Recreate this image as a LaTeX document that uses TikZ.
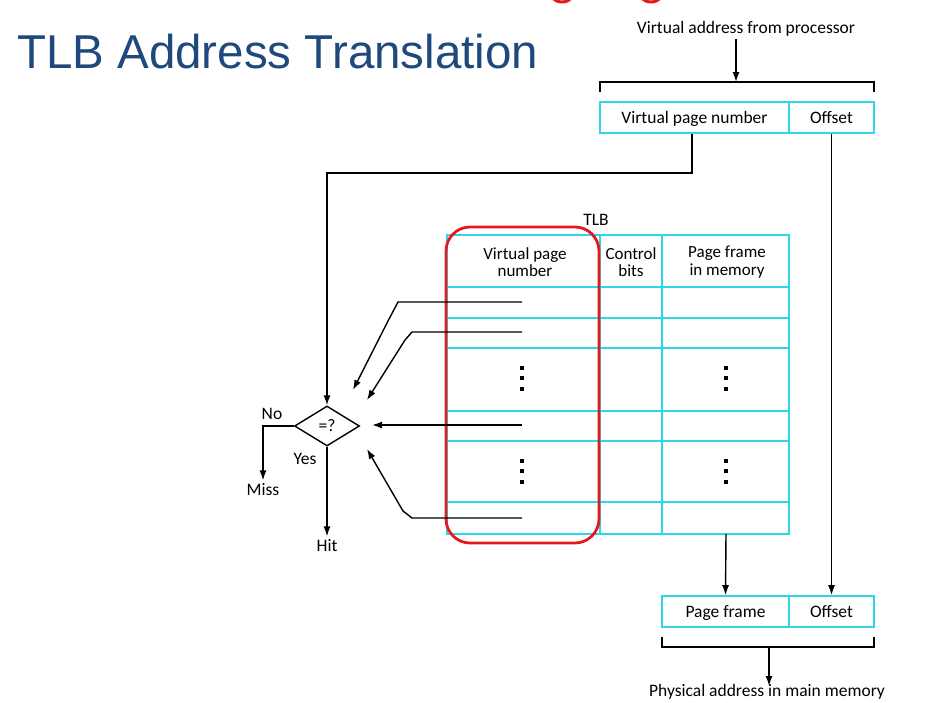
\documentclass[tikz,border=0pt]{standalone}
\usepackage{fontspec}
\setmainfont{Carlito}
\newfontfamily\titlefont{Liberation Sans}
\usetikzlibrary{shapes.geometric,arrows,arrows.meta}
\definecolor{tlbcyan}{RGB}{45,215,232}
\definecolor{titleblue}{RGB}{31,73,125}
\definecolor{markred}{RGB}{228,26,28}

\begin{document}
\begin{tikzpicture}[x=1pt,y=-1pt,>={Latex[length=10pt,width=7pt]},
  font=\fontsize{17.5}{15.5}\selectfont,
  box/.style={draw=tlbcyan,line width=1.6pt,minimum height=31pt,inner sep=0pt,text height=13pt,text depth=2pt},
  head/.style={align=center,inner sep=1pt,font=\fontsize{17}{17.5}\selectfont},
  grid/.style={tlbcyan,line width=1.6pt},
  wire/.style={line width=1.4pt},
  arr/.style={->,line width=1.4pt}]
\useasboundingbox (0,0) rectangle (931,702);

\node[anchor=base west,inner sep=0pt,text=titleblue,font=\titlefont\fontsize{47.5}{50}\selectfont] (title) at (17,68) {TLB Address Translation};

% bits of red marks cut off at the top
\draw[markred,line width=3pt] (562,-12) circle (14);
\draw[markred,line width=3pt] (651,-12) circle (14);

% virtual address
\node[anchor=base] (src) at (746,33) {Virtual address from processor};
\node[box,minimum width=189pt] (vpn) at (694.5,117.5) {Virtual page number};
\node[box,minimum width=85pt] (off) at (831.5,117.5) {Offset};
\draw[wire] (600,92) -- (600,82) -- (874,82) -- (874,92);
\coordinate (srcin) at (736,82);
\draw[arr] (src.south -| srcin) -- (srcin);

% TLB table
\node (tlb) at (596,220) {TLB};
\draw[grid] (447,235) rectangle (789,534);
\foreach \y in {287,318,348,411,441,502}
  \draw[grid] (447,\y) -- (789,\y);
\foreach \x in {600,662}
  \draw[grid] (\x,235) -- (\x,534);
\node[head] (hvpn) at (525,262) {Virtual page\\number};
\node[head] (hctl) at (631,262) {Control\\bits};
\node[head] (hpf) at (727,262) {Page frame\\in memory};
\foreach \x in {522,726}
  \foreach \y in {368,378,389,461,471,482}
    \fill (\x-2,\y-2) rectangle ++(4,4);
\draw[markred,line width=2.8pt,rounded corners=24pt] (446,227) rectangle (599,543);

% comparator
\node[draw,diamond,aspect=1.6,minimum width=65pt,minimum height=40pt,inner sep=0pt,line width=1.4pt] (cmp) at (327,426) {=?};
\draw[arr] ([xshift=-2.5pt]vpn.south) -- ++(0,39) -| (cmp.north);

\coordinate (r1) at (522,302);
\coordinate (r2) at (522,332);
\coordinate (r3) at (522,425);
\coordinate (r4) at (522,518);
\coordinate (t1) at (353,390);
\coordinate (t2) at (367,400);
\coordinate (t3) at (372,425);
\coordinate (t4) at (367,449);
\draw[arr] (r1) -- (398,302) -- (388,321) -- (t1);
\draw[arr] (r2) -- (412,332) -- (405,340) -- (t2);
\draw[arr] (r3) -- (t3);
\draw[arr] (r4) -- (412,518) -- (403,511) -- (t4);

\node (no) at (272,414) {No};
\node (yes) at (305,459) {Yes};
\node (miss) at (263,490) {Miss};
\node (hit) at (327,546) {Hit};
\draw[arr] (cmp.west) -| (miss.north);
\draw[arr] (cmp.south) -- (hit.north);

% physical address
\node[box,minimum width=127pt] (pf) at (725.5,611.5) {Page frame};
\node[box,minimum width=85pt] (off2) at (831.5,611.5) {Offset};
\coordinate (tb) at (726,534);
\draw[arr] (tb) -- (pf.north);
\draw[arr] (off.south) -- (off2.north);
\draw[wire] (662,637) -- (662,647) -- (874,647) -- (874,637);
\coordinate (pbr) at (769,647);
\coordinate (pain) at (769,686);
\draw[arr] (pbr) -- (pain);
\node[anchor=base] (dst) at (767,696) {Physical address in main memory};

\end{tikzpicture}
\end{document}
